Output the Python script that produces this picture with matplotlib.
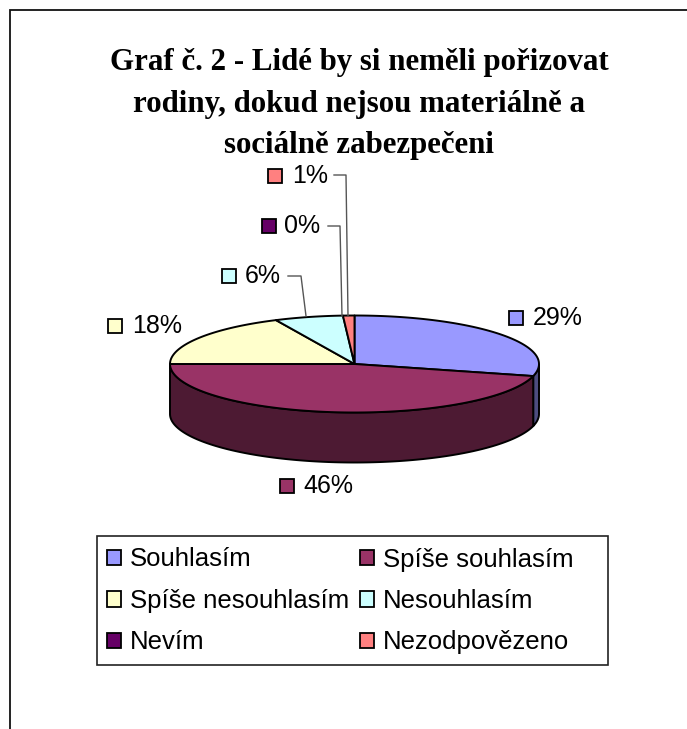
import numpy as np
import matplotlib
matplotlib.use('Agg')
import matplotlib.pyplot as plt
from matplotlib.patches import Patch, Polygon, Rectangle

title = 'Graf č. 2 - Lidé by si neměli pořizovat\nrodiny, dokud nejsou materiálně a\nsociálně zabezpečeni'
categories = ['Souhlasím', 'Spíše souhlasím', 'Spíše nesouhlasím', 'Nesouhlasím', 'Nevím', 'Nezodpovězeno']
values = [29, 46, 18, 6, 0, 1]
colors = ['#9999FF', '#993366', '#FFFFCC', '#CCFFFF', '#660066', '#FF8080']
side_colors = ['#4D4D80', '#4D1A33', '#80806A', '#668080', '#330033', '#804040']

# label layout, in pixels: square left edge, text left edge, middle y
label_pos = [(509, 533, 318), (280, 303, 486), (108, 132, 326),
             (222, 245, 276), (262, 284, 226), (268, 292, 176)]
# leader lines, in pixels
leaders = {3: [(288, 276), (301, 276), (306, 316)],
           4: [(328, 226), (340, 226), (342, 316)],
           5: [(334, 175), (346, 175), (348, 316)]}

cx, cy, rx, ry, depth = 354.5, 364, 184.5, 48.5, 50


def rim(a0, a1):
    # a is degrees clockwise from 12 o'clock
    n = max(int(abs(a1 - a0)) + 2, 2)
    a = np.radians(np.linspace(a0, a1, n))
    return cx + rx * np.sin(a), cy - ry * np.cos(a)


fig = plt.figure(figsize=(6.87, 7.29), dpi=100)
ax = fig.add_axes([0, 0, 1, 1])
ax.set_xlim(0, 687)
ax.set_ylim(729, 0)
ax.axis('off')

# outer frame, open on the right and bottom
ax.plot([9.5, 9.5, 687], [729, 10, 10], color='#111111', lw=1.3, solid_joinstyle='miter')

ax.text(359, 104, title, family='Liberation Serif', weight='bold', fontsize=22.2,
        ha='center', va='center', linespacing=1.59, color='black')

edges = np.cumsum([0] + values) * 3.6

# front wall first, top faces over it
for i in range(len(values)):
    a0 = max(edges[i], 90)
    a1 = min(edges[i + 1], 270)
    if a1 <= a0:
        continue
    x, y = rim(a0, a1)
    pts = np.column_stack([np.r_[x, x[::-1]], np.r_[y, y[::-1] + depth]])
    ax.add_patch(Polygon(pts, closed=True, fc=side_colors[i], ec='black', lw=1.4))

for i in range(len(values)):
    if values[i] == 0:
        continue
    x, y = rim(edges[i], edges[i + 1])
    pts = np.column_stack([np.r_[cx, x], np.r_[cy, y]])
    ax.add_patch(Polygon(pts, closed=True, fc=colors[i], ec='black', lw=1.4, joinstyle='round'))

for i in leaders:
    xs, ys = zip(*leaders[i])
    ax.plot(xs, ys, color='#555555', lw=1.0)

for i in range(len(values)):
    sx, tx, my = label_pos[i]
    ax.add_patch(Rectangle((sx, my - 7), 14, 14, fc=colors[i], ec='black', lw=1.3))
    ax.text(tx, my, '%d%%' % values[i], family='Liberation Sans', fontsize=18,
            ha='left', va='center', color='black')

# legend box is wider than its entries, so the frame is drawn apart
ax.add_patch(Rectangle((96.5, 536), 511, 129, fc='white', ec='#222222', lw=1.2))

# legend fills by column, so hand the entries over in that order
order = [0, 2, 4, 1, 3, 5]
handles = [Patch(fc=colors[i], ec='black', lw=1.3, label=categories[i]) for i in order]
leg = ax.legend(handles=handles, ncol=2, loc='upper left',
                bbox_to_anchor=(106.5 / 687, 1 - 547.5 / 729),
                prop={'family': 'Liberation Sans', 'size': 18.5},
                frameon=False, borderaxespad=0, borderpad=0, handlelength=0.545,
                handleheight=0.545, handletextpad=0.36, columnspacing=0.42,
                labelspacing=0.68)

fig.savefig('out.png', dpi=100)
